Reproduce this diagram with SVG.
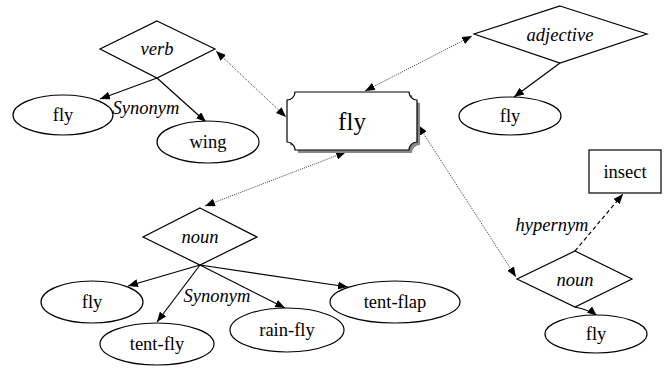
<svg xmlns="http://www.w3.org/2000/svg" width="668" height="368" viewBox="0 0 668 368">
<style>
text{font-family:'Liberation Serif','Times New Roman',serif;font-size:18.5px;fill:#000;text-anchor:middle}
.it{font-style:italic}
.big{font-size:25px}
.shape{fill:#fff;stroke:#000;stroke-width:1.2}
.edge{fill:none;stroke:#000;stroke-width:1.2;marker-end:url(#arr)}
.dot{fill:none;stroke:#333;stroke-width:1;stroke-dasharray:1 1.2;marker-start:url(#arr);marker-end:url(#arr)}
.dash{fill:none;stroke:#000;stroke-width:1.2;stroke-dasharray:4 3;marker-end:url(#arr)}
</style>
<defs>
<marker id="arr" viewBox="0 0 10 8" refX="10" refY="4" markerWidth="10" markerHeight="8" markerUnits="userSpaceOnUse" orient="auto-start-reverse">
<path d="M0,0 L10,4 L0,8 z" fill="#000"/>
</marker>
</defs>
<rect width="668" height="368" fill="#fff"/>
<g id="connectors">
<line class="dot" x1="216" y1="51" x2="286" y2="117"/>
<line class="dot" x1="365" y1="91" x2="472" y2="36"/>
<line class="dot" x1="346" y1="152" x2="205" y2="206"/>
<line class="dot" x1="418" y1="125" x2="516" y2="277"/>
<line class="edge" x1="157" y1="78" x2="100" y2="99"/>
<line class="edge" x1="157" y1="78" x2="206" y2="122"/>
<line class="edge" x1="560" y1="63" x2="514" y2="97"/>
<line class="edge" x1="200" y1="265" x2="128" y2="286"/>
<line class="edge" x1="200" y1="265" x2="157" y2="322"/>
<line class="edge" x1="200" y1="265" x2="285" y2="308"/>
<line class="edge" x1="200" y1="265" x2="348" y2="287"/>
<path class="edge" d="M575,307 Q590,310 597,316"/>
<line class="dash" x1="575" y1="251" x2="623" y2="194"/>
<text class="it" x="146" y="114">Synonym</text>
<text class="it" x="217" y="302">Synonym</text>
<text class="it" x="552" y="231">hypernym</text>
</g>
<g id="verb">
<polygon class="shape" points="157,21 215,49 157,78 100,49"/>
<text class="it" x="157" y="55">verb</text>
</g>
<g id="verb-fly">
<ellipse class="shape" cx="63" cy="115" rx="50" ry="20"/>
<text x="63" y="121">fly</text>
</g>
<g id="wing">
<ellipse class="shape" cx="208" cy="142" rx="51" ry="21"/>
<text x="208" y="148">wing</text>
</g>
<g id="fly-main">
<path d="M298,95 H412 A8,8 0 0 0 420,103 V145 A8,8 0 0 0 412,153 H298 A8,8 0 0 0 290,145 V103 A8,8 0 0 0 298,95 Z" fill="#888" stroke="none"/>
<path class="shape" d="M295,92 H409 A8,8 0 0 0 417,100 V142 A8,8 0 0 0 409,150 H295 A8,8 0 0 0 287,142 V100 A8,8 0 0 0 295,92 Z"/>
<text class="big" x="352" y="130">fly</text>
</g>
<g id="adjective">
<polygon class="shape" points="560,6 647,34 560,63 474,34"/>
<text class="it" x="560" y="41">adjective</text>
</g>
<g id="adj-fly">
<ellipse class="shape" cx="510" cy="116" rx="51" ry="19"/>
<text x="510" y="122">fly</text>
</g>
<g id="noun-left">
<polygon class="shape" points="200,208 257,237 200,265 143,237"/>
<text class="it" x="200" y="243">noun</text>
</g>
<g id="noun-fly">
<ellipse class="shape" cx="92" cy="302" rx="51" ry="21"/>
<text x="92" y="308">fly</text>
</g>
<g id="tent-fly">
<ellipse class="shape" cx="157" cy="344" rx="57" ry="21"/>
<text x="157" y="350">tent-fly</text>
</g>
<g id="rain-fly">
<ellipse class="shape" cx="287" cy="330" rx="57" ry="22"/>
<text x="287" y="336">rain-fly</text>
</g>
<g id="tent-flap">
<ellipse class="shape" cx="395" cy="302" rx="65" ry="21"/>
<text x="395" y="308">tent-flap</text>
</g>
<g id="noun-right">
<polygon class="shape" points="575,251 632,279 575,307 517,279"/>
<text class="it" x="575" y="286">noun</text>
</g>
<g id="insect">
<rect class="shape" x="589" y="150" width="72" height="43"/>
<text x="625" y="178">insect</text>
</g>
<g id="right-fly">
<ellipse class="shape" cx="596" cy="334" rx="51" ry="19"/>
<text x="596" y="340">fly</text>
</g>
</svg>
